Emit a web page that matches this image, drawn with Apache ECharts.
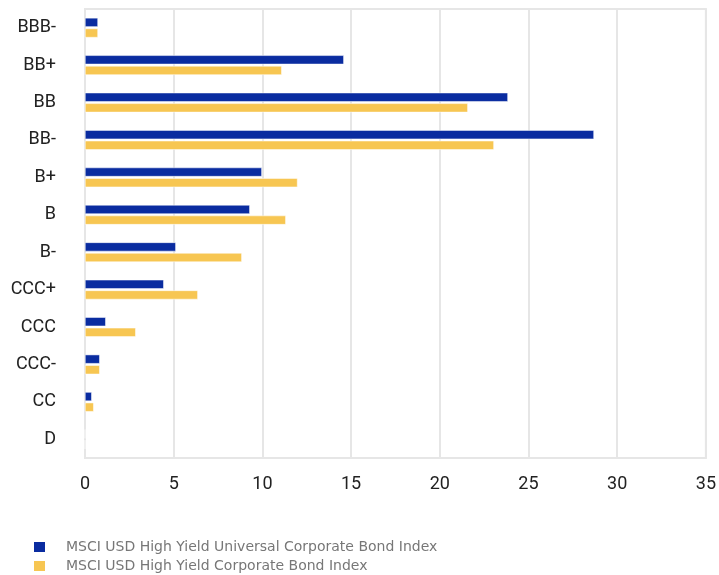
<!DOCTYPE html>
<html><head><meta charset="utf-8">
<script src="https://cdn.jsdelivr.net/npm/echarts@6/dist/echarts.min.js"></script>
<style>html,body{margin:0;padding:0;background:#fff}#c{width:719px;height:575px}</style>
</head><body><div id="c"></div>
<script>
var categories = ['BBB-','BB+','BB','BB-','B+','B','B-','CCC+','CCC','CCC-','CC','D'];
var universal = [0.73,14.59,23.84,28.69,9.97,9.29,5.12,4.44,1.17,0.83,0.38,0];
var corporate = [0.73,11.09,21.58,23.05,11.98,11.32,8.84,6.36,2.86,0.83,0.49,0];
var xTicks = [0,5,10,15,20,25,30,35];
var seriesNames = ['MSCI USD High Yield Universal Corporate Bond Index','MSCI USD High Yield Corporate Bond Index'];

function legendAt(name, top){
  return {
    left:32, top:top, padding:0, itemWidth:13, itemHeight:12, icon:'rect',
    textStyle:{color:'#777',fontSize:14,fontFamily:'DejaVu Sans',padding:[0,0,0,15]},
    data:[name]
  };
}

var chart = echarts.init(document.getElementById('c'));
chart.setOption({
  animation:false,
  textStyle:{fontFamily:'Roboto'},
  grid:{left:85,right:13,top:9,bottom:117,show:true,borderColor:'#e6e6e6',borderWidth:2},
  legend:[legendAt(seriesNames[0],540), legendAt(seriesNames[1],559)],
  xAxis:{
    type:'value', min:xTicks[0], max:xTicks[xTicks.length-1], interval:5,
    axisLine:{show:false}, axisTick:{show:false},
    axisLabel:{color:'#222',fontSize:18,margin:17},
    splitLine:{lineStyle:{color:'#e6e6e6',width:2}}
  },
  yAxis:{
    type:'category', data:categories, inverse:true,
    axisLine:{show:true,lineStyle:{color:'#e6e6e6',width:2}}, axisTick:{show:false},
    axisLabel:{color:'#222',fontSize:18,margin:29}
  },
  series:[
    {name:seriesNames[0],type:'bar',data:universal,barWidth:9,barGap:'18%',
     itemStyle:{color:'#0a2ca0',borderColor:'#fff',borderWidth:0.5}},
    {name:seriesNames[1],type:'bar',data:corporate,barWidth:9,
     itemStyle:{color:'#f7c652',borderColor:'#fff',borderWidth:0.5}}
  ]
});
</script></body></html>
